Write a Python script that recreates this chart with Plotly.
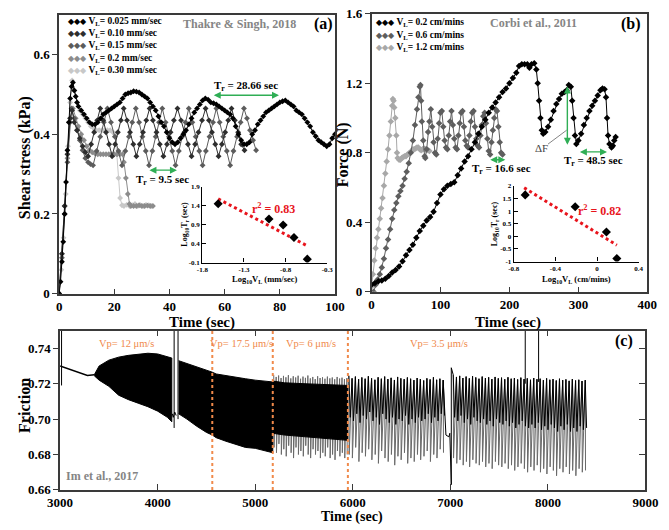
import plotly.graph_objects as go

W, H = 669, 530
SERIF = "Liberation Serif"


def px(x):
    return x / W


def py(y):
    return 1 - y / H


# ---------------- Panel (a): shear stress vs time ----------------
a_k_t = [0, 0.5, 1, 1.5, 2, 2.5, 3, 3.5, 4, 4.5, 5, 5.5, 6, 6.5, 7,
         8, 9, 10, 11, 12, 13, 14, 15, 16, 17, 18, 19, 20, 21, 22, 23, 24, 25, 26, 27, 28, 29, 30,
         31, 32, 33, 34, 35, 36, 37, 38, 39, 40, 41, 42, 43, 44, 45, 46, 47, 48, 49, 50,
         51, 52, 53, 54, 55, 56, 57, 58, 59, 60, 61, 62, 63, 64, 65, 66, 67, 68, 69, 70,
         71, 72, 73, 74, 75, 76, 77, 78, 79, 80, 81, 82, 83, 84, 85, 86, 87, 88, 89, 90,
         91, 92, 93, 94, 95, 96, 97, 98, 99, 100]
a_k_v = [0, 0.03, 0.08, 0.13, 0.2, 0.28, 0.36, 0.43, 0.49, 0.52, 0.53, 0.51, 0.495, 0.48, 0.47,
         0.46, 0.45, 0.44, 0.43, 0.425, 0.425, 0.43, 0.44, 0.45, 0.455, 0.46, 0.465, 0.47, 0.475, 0.48, 0.49, 0.50, 0.503, 0.505, 0.508, 0.507, 0.505, 0.50,
         0.495, 0.49, 0.48, 0.47, 0.46, 0.445, 0.43, 0.42, 0.405, 0.39, 0.38, 0.375, 0.38, 0.39, 0.40, 0.41, 0.425, 0.44, 0.455, 0.465,
         0.475, 0.485, 0.49, 0.487, 0.48, 0.478, 0.475, 0.47, 0.465, 0.46, 0.455, 0.45, 0.44, 0.42, 0.40, 0.385, 0.375, 0.375, 0.38, 0.40,
         0.41, 0.425, 0.435, 0.445, 0.455, 0.46, 0.465, 0.47, 0.475, 0.48, 0.483, 0.485, 0.48, 0.475, 0.47, 0.46, 0.455, 0.45, 0.44, 0.43,
         0.42, 0.405, 0.395, 0.385, 0.38, 0.375, 0.37, 0.375, 0.39, 0.40]

a_10_t = [0, 1, 2, 3, 4, 4.7, 5.5, 6.5, 7.5, 8.5, 9.5, 10.5,
          11.6, 12.7, 13.8, 14.9, 16, 17, 18.1, 19.2, 20.3, 21.3, 22.4, 23.4, 24.6, 25.7, 26.9, 28,
          29.2, 30.4, 31.6, 32.8, 34, 35.3, 36.5, 37.8, 39.1, 40.4, 41.6, 42.9, 44.2, 45.4, 46.7, 48,
          49.3, 50.5, 51.8, 53.1, 54.3, 55.4, 56.6, 57.8, 59, 60.2, 61.3, 62.5, 63.7, 64.9, 66, 67.2]
a_10_v = [0, 0.1, 0.22, 0.35, 0.44, 0.46, 0.43, 0.41, 0.39, 0.37, 0.355, 0.345,
          0.375, 0.405, 0.435, 0.465, 0.435, 0.405, 0.375, 0.345, 0.375, 0.405, 0.435, 0.465, 0.435, 0.405, 0.375, 0.345,
          0.375, 0.405, 0.435, 0.465, 0.435, 0.405, 0.375, 0.345, 0.375, 0.405, 0.435, 0.465, 0.435, 0.405, 0.375, 0.345,
          0.375, 0.405, 0.435, 0.465, 0.435, 0.405, 0.375, 0.345, 0.375, 0.405, 0.435, 0.465, 0.435, 0.405, 0.375, 0.36]

a_15_t = [0, 1, 2, 3, 4, 4.5, 5.5, 6.5, 7.5, 8.5, 9.5, 10.5, 11.4, 12.3,
          13.6, 14.9, 16.2, 17.5, 18.8, 20.2, 21.5, 22.8, 24, 25.3, 26.5, 27.8, 29, 30.2, 31.4, 32.6,
          33.8, 35, 36.2, 37.4, 38.6, 39.8, 41, 42.2, 43.4, 44.6, 45.8, 47, 48.3, 49.5, 50.8, 52,
          53.2, 54.5, 55.8, 57, 58.2, 59.5, 60.8, 62, 63.2, 64.5, 65.8, 67, 68.1, 69.2, 70.3, 71.4]
a_15_v = [0, 0.09, 0.2, 0.33, 0.43, 0.465, 0.44, 0.41, 0.385, 0.36, 0.34, 0.33, 0.325, 0.322,
          0.358, 0.394, 0.43, 0.465, 0.43, 0.394, 0.358, 0.322, 0.358, 0.394, 0.43, 0.465, 0.43, 0.394, 0.358, 0.322,
          0.358, 0.394, 0.43, 0.465, 0.43, 0.394, 0.358, 0.322, 0.358, 0.394, 0.43, 0.465, 0.43, 0.394, 0.358, 0.322,
          0.358, 0.394, 0.43, 0.465, 0.43, 0.394, 0.358, 0.322, 0.358, 0.394, 0.43, 0.465, 0.44, 0.41, 0.385, 0.36]

a_20_t = [0, 1, 2, 3, 4, 5, 6, 7, 8, 9, 10, 11, 12, 13, 14, 15, 16, 17, 18, 19, 20, 21, 22, 23,
          23.5, 24.2, 24.9, 25.5, 26, 27, 28, 29, 30, 31, 32, 33, 34]
a_20_v = [0, 0.1, 0.22, 0.34, 0.44, 0.465, 0.44, 0.42, 0.40, 0.385, 0.37, 0.36, 0.355, 0.352, 0.35,
          0.35, 0.35, 0.35, 0.35, 0.35, 0.35, 0.35, 0.35, 0.35,
          0.33, 0.29, 0.25, 0.225, 0.22, 0.22, 0.22, 0.222, 0.22, 0.22, 0.221, 0.22, 0.22]

a_30_t = [0, 0.8, 1.6, 2.4, 3.2, 4, 4.7, 5.5, 6.5, 7.5, 8.5, 9.5, 10.5, 11.5, 12.5, 13.5, 14.5,
          15.5, 16.5, 17.5, 18.5, 19.5, 20.3, 20.9, 21.5, 22.1, 22.8, 23.5, 24.5, 25.5, 26.5, 27.5,
          28.5, 29.5, 30.5, 31.5, 32.5, 33.5]
a_30_v = [0, 0.06, 0.14, 0.25, 0.37, 0.48, 0.535, 0.51, 0.48, 0.46, 0.45, 0.44, 0.43, 0.42, 0.415,
          0.41, 0.41, 0.41, 0.41, 0.41, 0.41, 0.405, 0.40, 0.35, 0.29, 0.24, 0.222, 0.22, 0.223, 0.22,
          0.222, 0.225, 0.22, 0.222, 0.22, 0.223, 0.222, 0.22]

a_labels = ["0.025", "0.10", "0.15", "0.2", "0.30"]
a_colors = ["#000000", "#2e2e2e", "#5c5c5c", "#8c8c8c", "#c8c8c8"]

# inset (a)
ia_x = [-1.61, -1.0, -0.83, -0.70, -0.54]
ia_y = [1.45, 1.05, 0.89, 0.56, -0.01]
ia_fit_x = [-1.61, -0.54]
ia_fit_y = [1.58, 0.34]

# ---------------- Panel (b): force vs time ----------------
b_02_t = [0, 5, 10, 15, 20, 25, 30, 35, 40, 45, 50, 55, 60, 65, 70, 75, 80, 85, 90, 95, 100, 105,
          110, 115, 120, 125, 130, 135, 140, 145, 150, 155, 160, 165, 170, 175, 180, 185, 190, 195,
          200, 205, 210, 214, 218, 222, 226, 229, 232, 236, 239, 241, 243, 245, 247, 249, 252, 256,
          260, 264, 268, 272, 276, 280, 283, 286, 289, 291, 293, 295, 297, 300, 304, 308, 312, 316,
          320, 324, 328, 332, 335, 338, 340, 341.5, 343, 345, 348, 350, 352, 354]
b_02_f = [0.04, 0.05, 0.06, 0.065, 0.075, 0.09, 0.11, 0.125, 0.145, 0.175, 0.21, 0.24, 0.27, 0.31,
          0.35, 0.38, 0.41, 0.43, 0.46, 0.51, 0.56, 0.59, 0.61, 0.62, 0.63, 0.67, 0.71, 0.75, 0.78,
          0.82, 0.86, 0.91, 0.95, 0.99, 1.03, 1.06, 1.09, 1.12, 1.15, 1.17, 1.20, 1.23, 1.26,
          1.30, 1.31, 1.31, 1.31, 1.29, 1.31, 1.315, 1.28, 1.2, 1.1, 1.0, 0.93, 0.91,
          0.92, 0.95, 0.99, 1.04, 1.08, 1.11, 1.14, 1.15, 1.16, 1.19, 1.18, 1.1, 1.0, 0.9, 0.85,
          0.87, 0.91, 0.96, 1.0, 1.04, 1.07, 1.10, 1.13, 1.16, 1.17, 1.165, 1.12, 1.0, 0.9, 0.85,
          0.83, 0.84, 0.87, 0.89]

b_06_t = [3, 6, 9, 12, 15, 18, 21, 24, 27, 30, 33, 36, 39, 42, 45, 48, 51, 54, 57, 60, 63, 66,
          68, 70, 71, 72, 73, 75, 77, 78,
          80, 82, 84, 86, 88, 90, 92, 94, 96, 98, 100, 102, 104, 106, 108, 110, 112, 114, 116, 118,
          120, 122, 124, 126, 128, 130, 132, 134, 136, 138, 140, 142, 144, 146, 148, 150, 152, 154,
          156, 158, 160, 162, 164, 166, 168, 170, 172, 174, 176, 178, 180, 182, 184, 186, 188, 190]
b_06_f = [0.0, 0.04, 0.07, 0.10, 0.14, 0.19, 0.25, 0.30, 0.36, 0.42, 0.47, 0.51, 0.55, 0.58, 0.61,
          0.65, 0.69, 0.74, 0.80, 0.87, 0.96, 1.05,
          1.12, 1.18, 1.19, 1.10, 0.98, 0.87, 0.78, 0.77,
          0.82, 0.92, 0.98, 1.05, 0.95, 0.86, 0.80, 0.79, 0.88, 0.97, 1.03, 1.04, 0.95, 0.87, 0.83,
          0.82, 0.90, 0.98, 1.04, 0.96, 0.88, 0.83, 0.82, 0.90, 0.97, 1.03, 1.04, 0.95, 0.87, 0.84,
          0.83, 0.90, 0.98, 1.03, 1.04, 0.95, 0.88, 0.84, 0.83, 0.90, 0.96, 1.01, 1.03, 0.97, 0.88,
          0.81, 0.79, 0.86, 0.93, 1.00, 1.05, 1.04, 0.95, 0.86, 0.80, 0.79]

b_12_t = [0, 2, 4, 6, 8, 10, 12, 14, 16, 18, 20, 22, 24, 26, 28, 30, 31, 32, 33, 34.5, 36, 37, 38,
          40, 42, 44, 46, 48, 50, 52, 54, 56, 58, 60, 62, 64, 66, 68, 70, 72, 74, 76, 78, 80, 82, 84]
b_12_f = [0.03, 0.10, 0.18, 0.25, 0.31, 0.36, 0.42, 0.48, 0.54, 0.61, 0.68, 0.75, 0.82, 0.90, 0.98,
          1.07, 1.11, 1.10, 1.06, 1.0, 0.9, 0.8, 0.77,
          0.76, 0.76, 0.77, 0.775, 0.78, 0.78, 0.79, 0.795, 0.80, 0.81, 0.82, 0.82, 0.825, 0.83,
          0.83, 0.82, 0.815, 0.82, 0.825, 0.82, 0.815, 0.815, 0.81]

b_labels = ["0.2", "0.6", "1.2"]
b_colors = ["#000000", "#5e5e5e", "#a8a8a8"]

# inset (b)
ib_x = [-0.69, -0.21, 0.09, 0.19]
ib_y = [1.64, 1.17, 0.17, -0.88]
ib_fit_x = [-0.70, 0.19]
ib_fit_y = [1.92, -0.35]

# ---------------- Panel (c): friction vs time ----------------
c_pre_t = [3000, 3100, 3200, 3280, 3350]
c_pre_f = [0.7300, 0.7282, 0.7262, 0.7247, 0.7250]

c_e1_t = [3350, 3400, 3500, 3600, 3700, 3800, 3900, 4000, 4100, 4145]
c_e1_hi = [0.7250, 0.7300, 0.7333, 0.7350, 0.7360, 0.7368, 0.7372, 0.7368, 0.7355, 0.7345]
c_e1_lo = [0.7245, 0.7220, 0.7185, 0.7135, 0.7110, 0.7090, 0.7070, 0.7045, 0.7010, 0.6985]

c_e2_t = [4215, 4300, 4400, 4500, 4560, 4600, 4700, 4800, 4900, 5000, 5100, 5180]
c_e2_hi = [0.7330, 0.7315, 0.7295, 0.7280, 0.7265, 0.7255, 0.7245, 0.7237, 0.7228, 0.7220, 0.7213, 0.7210]
c_e2_lo = [0.7030, 0.7000, 0.6960, 0.6925, 0.6910, 0.6895, 0.6875, 0.6856, 0.6840, 0.6835, 0.6820, 0.6810]

c_e3_t = [5180, 5300, 5500, 5700, 5950]
c_e3_hi = [0.7215, 0.7205, 0.7200, 0.7195, 0.7190]
c_e3_lo = [0.6920, 0.6910, 0.6900, 0.6890, 0.6880]

c_s3_t = [5190, 5215, 5240, 5265, 5290, 5315, 5340, 5365, 5390, 5415, 5440, 5465, 5490, 5515,
          5540, 5565, 5590, 5615, 5640, 5665, 5690, 5715, 5740, 5765, 5790, 5815, 5840, 5865,
          5890, 5915, 5940]
c_s3_hi = [0.7250, 0.7238, 0.7246, 0.7232, 0.7244, 0.7236, 0.7248, 0.7230, 0.7242, 0.7235, 0.7245,
           0.7228, 0.7240, 0.7233, 0.7246, 0.7230, 0.7238, 0.7226, 0.7242, 0.7232, 0.7236, 0.7228,
           0.7240, 0.7230, 0.7235, 0.7225, 0.7238, 0.7229, 0.7234, 0.7226, 0.7232]
c_s3_lo = [0.684, 0.681, 0.686, 0.680, 0.683, 0.679, 0.685, 0.681, 0.678, 0.684, 0.680, 0.682,
           0.679, 0.685, 0.680, 0.678, 0.683, 0.680, 0.682, 0.678, 0.681, 0.679, 0.684, 0.678,
           0.680, 0.677, 0.682, 0.679, 0.681, 0.678, 0.680]

c_s4_t = [5960, 5993, 6027, 6060, 6093, 6127, 6160, 6193, 6227, 6260, 6293, 6327, 6360, 6393,
          6427, 6460, 6493, 6527, 6560, 6593, 6627, 6660, 6693, 6727, 6760, 6793, 6827, 6860,
          6893, 6927]
c_s4_hi = [0.7245, 0.7230, 0.7240, 0.7225, 0.7235, 0.7228, 0.7242, 0.7230, 0.7222, 0.7236, 0.7228,
           0.7240, 0.7226, 0.7233, 0.7221, 0.7238, 0.7230, 0.7225, 0.7235, 0.7228, 0.7220, 0.7232,
           0.7226, 0.7218, 0.7230, 0.7224, 0.7236, 0.7222, 0.7228, 0.7220]
c_s4_mid = [0.701, 0.699, 0.703, 0.698, 0.702, 0.700, 0.704, 0.699, 0.701, 0.697, 0.703, 0.700,
            0.698, 0.701, 0.697, 0.700, 0.699, 0.702, 0.697, 0.700, 0.698, 0.701, 0.699, 0.700,
            0.703, 0.698, 0.701, 0.699, 0.703, 0.702]
c_s4_lo = [0.680, 0.678, 0.684, 0.676, 0.681, 0.679, 0.683, 0.677, 0.680, 0.675, 0.682, 0.678,
           0.676, 0.680, 0.674, 0.679, 0.677, 0.681, 0.675, 0.678, 0.676, 0.680, 0.677, 0.679,
           0.682, 0.676, 0.680, 0.678, 0.683, 0.681]

c_s5_t = [7030, 7063, 7096, 7129, 7162, 7195, 7228, 7261, 7294, 7327, 7360, 7393, 7426, 7459,
          7492, 7525, 7558, 7591, 7624, 7657, 7690, 7723, 7756, 7789, 7822, 7855, 7888, 7921,
          7954, 7987, 8020, 8053, 8086, 8119, 8152, 8185, 8218, 8251, 8284, 8317, 8350, 8383]
c_s5_hi = [0.7250, 0.7238, 0.7244, 0.7232, 0.7240, 0.7230, 0.7242, 0.7235, 0.7228, 0.7240, 0.7232,
           0.7236, 0.7226, 0.7238, 0.7230, 0.7234, 0.7225, 0.7236, 0.7228, 0.7232, 0.7224, 0.7234,
           0.7226, 0.7230, 0.7222, 0.7232, 0.7225, 0.7228, 0.7220, 0.7230, 0.7222, 0.7226, 0.7218,
           0.7228, 0.7220, 0.7224, 0.7216, 0.7226, 0.7218, 0.7222, 0.7215, 0.7220]
c_s5_mid = [0.701, 0.699, 0.702, 0.698, 0.700, 0.697, 0.701, 0.699, 0.698, 0.700, 0.697, 0.699,
            0.696, 0.700, 0.698, 0.697, 0.699, 0.696, 0.698, 0.695, 0.697, 0.699, 0.696, 0.695,
            0.697, 0.695, 0.698, 0.694, 0.696, 0.694, 0.697, 0.695, 0.693, 0.696, 0.694, 0.697,
            0.693, 0.695, 0.693, 0.696, 0.694, 0.695]
c_s5_lo = [0.678, 0.675, 0.677, 0.674, 0.676, 0.673, 0.677, 0.675, 0.674, 0.676, 0.673, 0.675,
           0.672, 0.676, 0.674, 0.673, 0.675, 0.672, 0.674, 0.671, 0.673, 0.675, 0.672, 0.670,
           0.673, 0.671, 0.674, 0.670, 0.672, 0.669, 0.673, 0.671, 0.668, 0.672, 0.670, 0.673,
           0.669, 0.671, 0.668, 0.672, 0.670, 0.671]

c_brk_t = [6927, 6945, 6955, 6985, 6995, 7010, 7010, 7030]
c_brk_f = [0.7220, 0.700, 0.691, 0.690, 0.692, 0.663, 0.729, 0.7250]

c_glitch_t = [4169, 4169, None, 4209, 4209, None, 4150, 4160, 4175, 4190]
c_glitch_f = [0.75, 0.695, None, 0.75, 0.700, None, 0.703, 0.701, 0.704, 0.702]

c_spike_t = [3015, 3015, None, 7768, 7768, None, 7905, 7905]
c_spike_f = [0.75, 0.719, None, 0.75, 0.720, None, 0.75, 0.721]

vp_lines_t = [4560, 5180, 5950]
vp_text = ["Vp= 12 \u03bcm/s", "Vp= 17.5 \u03bcm/s", "Vp= 6 \u03bcm/s", "Vp= 3.5 \u03bcm/s"]
vp_text_t = [3680, 4862, 5571, 6882]

ORANGE = "#f08a4b"
GREEN = "#2fae55"
RED = "#e8141c"

fig = go.Figure()


def series(t, v, color, xa, ya, size=4.5):
    fig.add_trace(go.Scatter(x=t, y=v, mode="lines+markers", xaxis=xa, yaxis=ya,
                             line=dict(color=color, width=1),
                             marker=dict(symbol="diamond", size=size, color=color),
                             showlegend=False, hoverinfo="skip"))


# panel a series (light first, black on top)
series(a_30_t, a_30_v, a_colors[4], "x", "y")
series(a_20_t, a_20_v, a_colors[3], "x", "y")
series(a_15_t, a_15_v, a_colors[2], "x", "y")
series(a_10_t, a_10_v, a_colors[1], "x", "y")
series(a_k_t, a_k_v, a_colors[0], "x", "y")

# panel b series
series(b_12_t, b_12_f, b_colors[2], "x2", "y2", 5)
series(b_06_t, b_06_f, b_colors[1], "x2", "y2", 5)
series(b_02_t, b_02_f, b_colors[0], "x2", "y2", 5)

# insets
for (xs, ys, fx, fy, xa, ya) in [(ia_x, ia_y, ia_fit_x, ia_fit_y, "x4", "y4"),
                                 (ib_x, ib_y, ib_fit_x, ib_fit_y, "x5", "y5")]:
    fig.add_trace(go.Scatter(x=fx, y=fy, mode="lines", xaxis=xa, yaxis=ya,
                             line=dict(color=RED, width=3, dash="dot"),
                             showlegend=False, hoverinfo="skip"))
    fig.add_trace(go.Scatter(x=xs, y=ys, mode="markers", xaxis=xa, yaxis=ya,
                             marker=dict(symbol="diamond", size=7, color="black"),
                             showlegend=False, hoverinfo="skip"))


# panel c
def line_c(t, f, color, width=1):
    fig.add_trace(go.Scatter(x=t, y=f, mode="lines", xaxis="x3", yaxis="y3",
                             line=dict(color=color, width=width),
                             showlegend=False, hoverinfo="skip", connectgaps=False))


def saw(ts, his, los, d):
    xs, ys = [], []
    for t, h, l in zip(ts, his, los):
        xs += [t, t + d]
        ys += [h, l]
    return xs, ys


def band(ts, his, los):
    fig.add_trace(go.Scatter(x=list(ts) + list(ts)[::-1], y=list(his) + list(los)[::-1],
                             mode="lines", fill="toself", fillcolor="black",
                             line=dict(color="black", width=1), xaxis="x3", yaxis="y3",
                             showlegend=False, hoverinfo="skip"))


line_c(c_pre_t, c_pre_f, "black", 1.5)
sx, sy = saw(c_s3_t, c_s3_hi, c_s3_lo, 3)
line_c(sx, sy, "#6a6a6a")
band(c_e1_t, c_e1_hi, c_e1_lo)
band(c_e2_t, c_e2_hi, c_e2_lo)
band(c_e3_t, c_e3_hi, c_e3_lo)

for ts, hi, mid, lo in [(c_s4_t, c_s4_hi, c_s4_mid, c_s4_lo), (c_s5_t, c_s5_hi, c_s5_mid, c_s5_lo)]:
    gx, gy = saw(ts, hi, lo, 3)
    line_c(gx, gy, "#6a6a6a")
    bx, by = saw(ts, hi, mid, 14)
    line_c(bx, by, "black")

line_c(c_brk_t, c_brk_f, "black")
line_c(c_glitch_t, c_glitch_f, "black")
line_c(c_spike_t, c_spike_f, "black")

# dummy trace to activate right-side tick axis of panel c
fig.add_trace(go.Scatter(x=[], y=[], xaxis="x3", yaxis="y6", showlegend=False))

shapes = []
for t in vp_lines_t:
    shapes.append(dict(type="line", xref="x3", yref="y3", x0=t, x1=t, y0=0.66, y1=0.75,
                       line=dict(color=ORANGE, width=2, dash="dot")))
# leader line for Delta F
shapes.append(dict(type="line", xref="x2", yref="y2", x0=256, y0=0.85, x1=283, y1=0.93,
                   line=dict(color="#666", width=0.8)))

ann = []


def text(x, y, s, size, color="black", bold=True, xanchor="center", angle=0, xref="paper", yref="paper"):
    ann.append(dict(x=x, y=y, xref=xref, yref=yref, text=(f"<b>{s}</b>" if bold else s),
                    showarrow=False, xanchor=xanchor, yanchor="middle", textangle=angle,
                    font=dict(family=SERIF, size=size, color=color)))


def darrow(x0, y0, x1, y1, xr, yr):
    ann.append(dict(x=x1, y=y1, ax=x0, ay=y0, xref=xr, yref=yr, axref=xr, ayref=yr,
                    text="", showarrow=True, arrowhead=2, startarrowhead=2, arrowside="end+start",
                    arrowsize=1, startarrowsize=1, arrowwidth=1.4, arrowcolor=GREEN, standoff=0,
                    startstandoff=0))


# legends
for i, (lab, col) in enumerate(zip(a_labels, a_colors)):
    ann.append(dict(x=px(55), y=py(15 + 12.5 * i), xref="paper", yref="paper", showarrow=False,
                    xanchor="left", yanchor="middle",
                    text=f"<span style='color:{col};font-size:8px'>\u25c6\u25c6\u25c6</span> <b>V<sub>L</sub>= {lab} mm/sec</b>",
                    font=dict(family=SERIF, size=9.5, color="black")))
for i, (lab, col) in enumerate(zip(b_labels, b_colors)):
    ann.append(dict(x=px(376), y=py(16 + 13 * i), xref="paper", yref="paper", showarrow=False,
                    xanchor="left", yanchor="middle",
                    text=f"<span style='color:{col};font-size:8px'>\u25c6\u25c6\u25c6</span> <b>V<sub>L</sub>= {lab} cm/mins</b>",
                    font=dict(family=SERIF, size=9.5, color="black")))

text(px(236), py(18), "Thakre &amp; Singh, 2018", 12, "#858585")
text(px(323), py(18), "(a)", 16)
text(px(542), py(16), "Corbi et al., 2011", 12, "#858585")
text(px(643), py(17), "(b)", 16)
text(px(636), py(344), "(c)", 16)
text(px(53), py(483), "Im et al., 2017", 12, "#858585", xanchor="left")

# axis titles
text(px(12), py(155), "Shear stress (kPa)", 16, angle=-90)
text(px(343), py(152), "Force (N)", 16, angle=-90)
text(px(12), py(410), "Friction", 16, angle=-90)
text(px(197), py(325), "Time (sec)", 15)
text(px(515), py(325), "Time (sec)", 15)
text(px(353), py(525), "Time (sec)", 14)

# inset titles
text(px(179), py(224), "Log<sub>10</sub>T<sub>r</sub> (sec)", 8, angle=-90)
text(px(262), py(280), "Log<sub>10</sub>V<sub>L</sub> (mm/sec)", 8.5)
text(px(501), py(223), "Log<sub>10</sub>T<sub>r</sub> (sec)", 8, angle=-90)
text(px(586), py(280), "Log<sub>10</sub>V<sub>L</sub> (cm/mins)", 8.5)
text(-0.94, 1.33, "r<sup>2</sup> = 0.83", 12, RED, xref="x4", yref="y4")
text(0.02, 1.04, "r<sup>2</sup> = 0.82", 12, RED, xref="x5", yref="y5")

# Tr annotations
darrow(55.5, 0.498, 79.7, 0.498, "x", "y")
text(67.8, 0.522, "T<sub>r</sub> = 28.66 sec", 11, xref="x", yref="y")
darrow(32.2, 0.31, 42.7, 0.31, "x", "y")
text(37.4, 0.285, "T<sub>r</sub> = 9.5 sec", 11, xref="x", yref="y")
darrow(170, 0.76, 194, 0.76, "x2", "y2")
text(189, 0.705, "T<sub>r</sub> = 16.6 sec", 11, xref="x2", yref="y2")
darrow(300, 0.805, 341.5, 0.805, "x2", "y2")
text(322, 0.75, "T<sub>r</sub> = 48.5 sec", 11, xref="x2", yref="y2")
darrow(284, 1.19, 284, 0.846, "x2", "y2")
text(246, 0.828, "\u0394F", 11, "#444", bold=False, xref="x2", yref="y2")

for t, s in zip(vp_text_t, vp_text):
    text(t, 0.7427, s, 10.5, ORANGE, bold=False, xref="x3", yref="y3")

TICKF = dict(family=SERIF, size=13, color="black", weight="bold")
SMALLF = dict(family=SERIF, size=7, color="black", weight="bold")
LINE = dict(showline=True, linecolor="#3a3a3a", linewidth=1.5, showgrid=False, zeroline=False)

fig.update_layout(
    width=W, height=H, margin=dict(l=0, r=0, t=0, b=0),
    paper_bgcolor="white", plot_bgcolor="white", showlegend=False,
    xaxis=dict(domain=[px(48), px(335)], anchor="y", range=[0, 100], tickvals=[0, 20, 40, 60, 80, 100],
               ticks="inside", ticklen=5, tickcolor="#3a3a3a", mirror=True, tickfont=TICKF, **LINE),
    yaxis=dict(domain=[py(295), py(8)], anchor="x", range=[0, 0.7], tickvals=[0, 0.2, 0.4, 0.6],
               ticktext=["0", "0.2", "0.4", "0.6"], ticks="outside", ticklen=5, tickcolor="#3a3a3a",
               mirror=True, tickfont=TICKF, **LINE),
    xaxis2=dict(domain=[px(373), px(660)], anchor="y2", range=[0, 400], tickvals=[0, 100, 200, 300, 400],
                ticks="inside", ticklen=5, tickcolor="#3a3a3a", mirror=True, tickfont=TICKF, **LINE),
    yaxis2=dict(domain=[py(293), py(7)], anchor="x2", range=[0, 1.6], tickvals=[0, 0.4, 0.8, 1.2, 1.6],
                ticktext=["0", "0.4", "0.8", "1.2", "1.6"], ticks="outside", ticklen=5, tickcolor="#3a3a3a",
                mirror=True, tickfont=TICKF, **LINE),
    xaxis3=dict(domain=[px(49), px(658)], anchor="y3", range=[3000, 9000],
                tickvals=[3000, 4000, 5000, 6000, 7000, 8000, 9000],
                ticks="inside", ticklen=6, tickcolor="#3a3a3a", mirror="ticks", tickfont=TICKF, **LINE),
    yaxis3=dict(domain=[py(497), py(333)], anchor="x3", range=[0.66, 0.75],
                tickvals=[0.66, 0.68, 0.70, 0.72, 0.74],
                ticktext=["0.66", "0.68", "0.70", "0.72", "0.74"], ticks="outside", ticklen=5,
                tickcolor="#3a3a3a", mirror=True, tickfont=TICKF, **LINE),
    yaxis6=dict(overlaying="y3", anchor="x3", side="right", range=[0.66, 0.75],
                tickvals=[0.66, 0.68, 0.70, 0.72, 0.74], ticks="inside", ticklen=6, tickcolor="#3a3a3a",
                showticklabels=False, showgrid=False, zeroline=False, showline=False),
    xaxis4=dict(domain=[px(197), px(327)], anchor="y4", range=[-1.8, -0.3],
                tickvals=[-1.8, -1.3, -0.8, -0.3], ticktext=["-1.8", "-1.3", "-0.8", "-0.3"],
                ticks="inside", ticklen=4, tickcolor="black", tickfont=SMALLF,
                showline=True, linecolor="black", linewidth=1.2, showgrid=False, zeroline=False),
    yaxis4=dict(domain=[py(263), py(185)], anchor="x4", range=[-0.1, 1.9],
                tickvals=[-0.1, 0.4, 0.9, 1.4, 1.9], ticktext=["-0.1", "0.4", "0.9", "1.4", "1.9"],
                ticks="inside", ticklen=4, tickcolor="black", tickfont=SMALLF,
                showline=True, linecolor="black", linewidth=1.2, showgrid=False, zeroline=False),
    xaxis5=dict(domain=[px(521), px(651)], anchor="y5", range=[-0.8, 0.4],
                tickvals=[-0.8, -0.4, 0, 0.4], ticktext=["-0.8", "-0.4", "0", "0.4"],
                ticks="inside", ticklen=4, tickcolor="black", tickfont=SMALLF,
                showline=True, linecolor="black", linewidth=1.2, showgrid=False, zeroline=False),
    yaxis5=dict(domain=[py(262), py(184)], anchor="x5", range=[-1, 2],
                tickvals=[-1, -0.5, 0, 0.5, 1, 1.5, 2], ticktext=["-1", "-0.5", "0", "0.5", "1", "1.5", "2"],
                ticks="inside", ticklen=4, tickcolor="black", tickfont=SMALLF,
                showline=True, linecolor="black", linewidth=1.2, showgrid=False, zeroline=False),
    annotations=ann, shapes=shapes,
)

fig.write_html("out.html")
